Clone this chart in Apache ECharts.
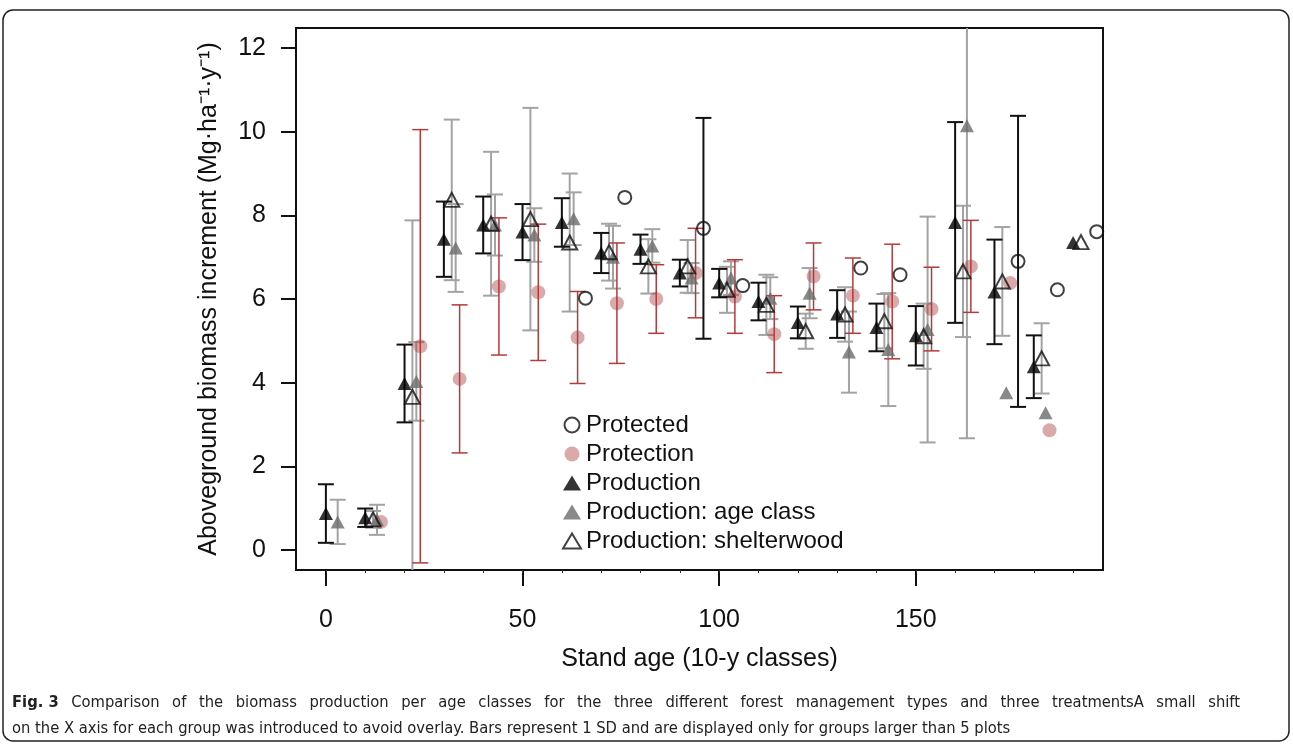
<!DOCTYPE html>
<html>
<head>
<meta charset="utf-8">
<title>Biomass production per age class</title>
<script src="https://cdn.jsdelivr.net/npm/echarts@6/dist/echarts.min.js"></script>
<style>
  html, body { margin: 0; padding: 0; background: #fff; }
  #chart { width: 1293px; height: 745px; }
</style>
</head>
<body>
<div id="chart"></div>
<script>
// stand age classes (10-y classes)
const ageClasses = [0, 10, 20, 30, 40, 50, 60, 70, 80, 90, 100, 110, 120, 130, 140, 150, 160, 170, 180, 190]

// mean and SD per age class, null = no group / no bar
const productionMean = [0.87, 0.77, 3.98, 7.43, 7.77, 7.60, 7.83, 7.10, 7.19, 6.62, 6.38, 5.94, 5.44, 5.64, 5.32, 5.12, 7.83, 6.17, 4.38, 7.35]
const productionSd = [0.70, 0.22, 0.93, 0.90, 0.68, 0.67, 0.58, 0.48, 0.35, 0.32, 0.34, 0.45, 0.38, 0.57, 0.57, 0.71, 2.40, 1.25, 0.75, null]

const ageClassMean = [0.67, 0.72, 4.03, 7.22, 7.77, 7.53, 7.92, 7.00, 7.27, 6.50, 6.50, 6.02, 6.14, 4.73, 4.79, 5.27, 10.14, 3.76, 3.28, null]
const ageClassSd = [0.53, 0.36, 0.94, 1.05, 0.73, 0.64, 0.63, 0.75, 0.40, 0.36, 0.40, 0.50, 0.60, 0.97, 1.35, 2.70, 7.47, null, null, null]

const shelterwoodMean = [null, 0.73, 3.66, 8.37, 7.80, 7.91, 7.35, 7.12, 6.78, 6.78, 6.22, 5.86, 5.23, 5.63, 5.47, 5.11, 6.66, 6.42, 4.58, 7.36]
const shelterwoodSd = [null, 0.20, 4.22, 1.92, 1.72, 2.66, 1.65, 0.68, 0.65, 0.63, 0.55, 0.72, 0.42, 0.65, 0.65, 0.78, 1.57, 1.30, 0.84, null]

const protectionMean = [null, 0.67, 4.87, 4.09, 6.30, 6.16, 5.08, 5.90, 6.00, 6.62, 6.06, 5.16, 6.54, 6.08, 5.94, 5.76, 6.78, 6.38, 2.86, null]
const protectionSd = [null, null, 5.18, 1.77, 1.64, 1.63, 1.10, 1.44, 0.82, 1.07, 0.88, 0.92, 0.80, 0.90, 1.37, 1.00, 1.10, null, null, null]

const protectedMean = [null, null, null, null, null, null, 6.02, 8.43, null, 7.69, 6.32, null, null, 6.74, 6.58, null, null, 6.90, 6.22, 7.61]
const protectedSd = [null, null, null, null, null, null, null, null, null, 2.64, null, null, null, null, null, null, null, 3.48, null, null]

const xTickLabels = [0, 50, 100, 150]
const yTickLabels = [0, 2, 4, 6, 8, 10, 12]

const captionTitle = 'Fig. 3'
const captionLine1 = 'Comparison of the biomass production per age classes for the three different forest management types and three treatmentsA small shift'
const captionLine2 = 'on the X axis for each group was introduced to avoid overlay. Bars represent 1 SD and are displayed only for groups larger than 5 plots'

// small shift on the x axis per group, to avoid overlay
const shift = { production: 0, shelterwood: 2, ageClass: 3, protection: 4, protected: 6 }

const font = 'Liberation Sans, Arial, Helvetica, sans-serif'
const captionFace = '"Liberation Sans Narrow", "DejaVu Sans Condensed", sans-serif'
const captionSize = 16.4

const points = (means, off) => {
    const out = []
    means.forEach((m, i) => {
        if (m !== null) out.push([ageClasses[i] + off, m])
    })
    return out
}
const bars = (means, sds, off) => {
    const out = []
    means.forEach((m, i) => {
        if (m !== null && sds[i] !== null) out.push([ageClasses[i] + off, m, sds[i]])
    })
    return out
}

// first caption line is justified in the source figure: spread its word gaps
const justifyLine = (left, right) => {
    const ctx = document.createElement('canvas').getContext('2d')
    const words = captionLine1.split(' ')
    ctx.font = 'bold ' + captionSize + 'px ' + captionFace
    let w = ctx.measureText(captionTitle).width
    ctx.font = captionSize + 'px ' + captionFace
    words.forEach((word) => { w += ctx.measureText(word).width })
    const gap = (right - left - w) / words.length
    return { text: '{b|' + captionTitle + '}{s| }' + words.join('{s| }'), gap }
}

const errorBar = (color, width) => (params, api) => {
    const x = api.value(0)
    const m = api.value(1)
    const s = api.value(2)
    const top = api.coord([x, m + s])
    const bot = api.coord([x, m - s])
    const cap = 8
    const style = { stroke: color, lineWidth: width, fill: null }
    return {
        type: 'group',
        children: [
            { type: 'line', shape: { x1: top[0], y1: top[1], x2: bot[0], y2: bot[1] }, style },
            { type: 'line', shape: { x1: top[0] - cap, y1: top[1], x2: top[0] + cap, y2: top[1] }, style },
            { type: 'line', shape: { x1: bot[0] - cap, y1: bot[1], x2: bot[0] + cap, y2: bot[1] }, style },
        ],
    }
}

const barSeries = (name, data, color, width) => ({
    type: 'custom',
    name,
    clip: true,
    silent: true,
    z: 1,
    encode: { x: 0, y: 1 },
    renderItem: errorBar(color, width),
    data,
})

const line1 = justifyLine(12, 1240)

const chart = echarts.init(document.getElementById('chart'))

chart.setOption({
    animation: false,
    backgroundColor: '#fff',
    textStyle: { fontFamily: font },
    grid: {
        left: 296,
        top: 28,
        width: 807,
        height: 542,
        show: true,
        borderColor: '#111',
        borderWidth: 2,
        backgroundColor: 'transparent',
    },
    legend: {
        data: ['Protected', 'Protection', 'Production', 'Production: age class', 'Production: shelterwood'],
        orient: 'vertical',
        left: 557,
        top: 408,
        itemWidth: 18,
        itemHeight: 15,
        itemGap: 5,
        textStyle: { fontFamily: font, fontSize: 24, color: '#111', lineHeight: 24 },
    },
    xAxis: [
        {
            type: 'value',
            min: -7.6,
            max: 197.6,
            name: 'Stand age (10-y classes)',
            nameLocation: 'middle',
            nameGap: 77,
            nameTextStyle: { fontFamily: font, fontSize: 25, color: '#111' },
            axisLine: { show: true, onZero: false, lineStyle: { color: '#111', width: 2 } },
            axisTick: { show: true, customValues: xTickLabels, length: 16, lineStyle: { color: '#111', width: 2 } },
            axisLabel: { customValues: xTickLabels, margin: 38, fontFamily: font, fontSize: 25, color: '#111' },
            splitLine: { show: false },
        },
        {
            type: 'value',
            position: 'bottom',
            min: -7.6,
            max: 197.6,
            axisLine: { show: false, onZero: false },
            axisTick: { show: true, customValues: ageClasses, length: 3, lineStyle: { color: '#333', width: 1 } },
            axisLabel: { show: false },
            splitLine: { show: false },
        },
    ],
    yAxis: {
        type: 'value',
        min: -0.48,
        max: 12.48,
        name: 'Aboveground biomass increment (Mg·ha⁻¹·y⁻¹)',
        nameLocation: 'middle',
        nameGap: 74,
        nameTextStyle: { fontFamily: font, fontSize: 25, color: '#111' },
        axisLine: { show: true, onZero: false, lineStyle: { color: '#111', width: 2 } },
        axisTick: { show: true, customValues: yTickLabels, length: 15, lineStyle: { color: '#111', width: 2 } },
        axisLabel: { customValues: yTickLabels, margin: 30, fontFamily: font, fontSize: 25, color: '#111' },
        splitLine: { show: false },
    },
    graphic: [
        {
            type: 'rect',
            shape: { x: 3, y: 10, width: 1286, height: 731, r: 10 },
            style: { fill: null, stroke: '#222', lineWidth: 1.5 },
            silent: true,
        },
        {
            type: 'text',
            left: 12,
            top: 693,
            style: {
                text: line1.text,
                font: captionSize + 'px ' + captionFace,
                fill: '#222',
                lineHeight: 20,
                rich: {
                    b: { font: 'bold ' + captionSize + 'px ' + captionFace, fill: '#222', lineHeight: 20 },
                    s: { width: line1.gap, lineHeight: 20 },
                },
            },
        },
        {
            type: 'text',
            left: 12,
            top: 719,
            style: {
                text: captionLine2,
                font: captionSize + 'px ' + captionFace,
                fill: '#222',
                lineHeight: 20,
            },
        },
    ],
    series: [
        barSeries('Production: age class SD', bars(ageClassMean, ageClassSd, shift.ageClass), '#a3a3a3', 2),
        barSeries('Production: shelterwood SD', bars(shelterwoodMean, shelterwoodSd, shift.shelterwood), '#a3a3a3', 2),
        barSeries('Protection SD', bars(protectionMean, protectionSd, shift.protection), '#b33b3b', 1.5),
        barSeries('Production SD', bars(productionMean, productionSd, shift.production), '#111', 2),
        barSeries('Protected SD', bars(protectedMean, protectedSd, shift.protected), '#111', 2),
        {
            type: 'scatter',
            name: 'Protected',
            z: 3,
            symbol: 'circle',
            symbolSize: 13,
            itemStyle: { color: 'rgba(255,255,255,0)', borderColor: '#111', borderWidth: 2 },
            data: points(protectedMean, shift.protected),
        },
        {
            type: 'scatter',
            name: 'Protection',
            z: 3,
            symbol: 'circle',
            symbolSize: 14,
            itemStyle: { color: 'rgba(170,60,60,0.55)' },
            data: points(protectionMean, shift.protection),
        },
        {
            type: 'scatter',
            name: 'Production',
            z: 3,
            symbol: 'triangle',
            symbolSize: [14, 13],
            itemStyle: { color: '#000' },
            data: points(productionMean, shift.production),
        },
        {
            type: 'scatter',
            name: 'Production: age class',
            z: 3,
            symbol: 'triangle',
            symbolSize: [14, 13],
            itemStyle: { color: '#6b6b6b' },
            data: points(ageClassMean, shift.ageClass),
        },
        {
            type: 'scatter',
            name: 'Production: shelterwood',
            z: 3,
            symbol: 'triangle',
            symbolSize: [15, 14],
            itemStyle: { color: 'rgba(255,255,255,0)', borderColor: '#111', borderWidth: 2 },
            data: points(shelterwoodMean, shift.shelterwood),
        },
    ],
})
</script>
</body>
</html>
